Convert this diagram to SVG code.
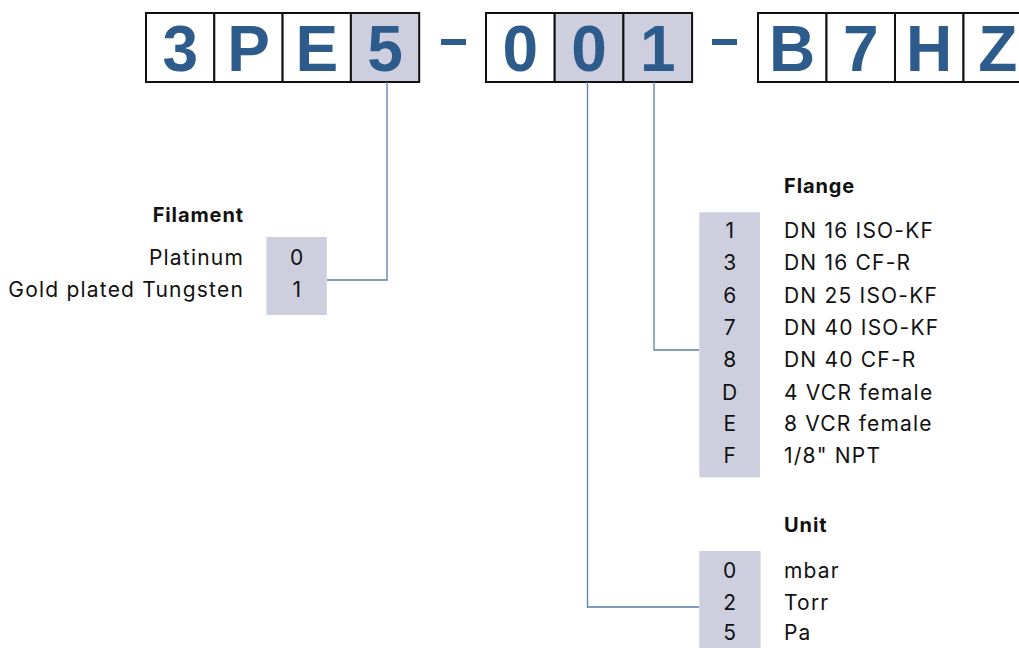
<svg xmlns="http://www.w3.org/2000/svg" width="1019" height="648" viewBox="0 0 1019 648">
  <style>
    .box { stroke: #111; stroke-width: 2; }
    .plain { fill: #ffffff; }
    .hl { fill: #cdcfdf; }
    .big { font-family: "Liberation Sans", Arial, sans-serif; font-weight: bold; font-size: 64px; fill: #2c5b8c; text-anchor: middle; }
    .dash { fill: #2c5b8c; }
    .title { font-family: Inter, "DejaVu Sans", sans-serif; font-weight: bold; font-size: 20px; letter-spacing: 0.9px; fill: #111; }
    .item { font-family: Inter, "DejaVu Sans", sans-serif; font-size: 21px; letter-spacing: 1.2px; fill: #111; }
    .code { font-family: Inter, "DejaVu Sans", sans-serif; font-size: 21px; fill: #111; text-anchor: middle; }
    .conn { fill: none; stroke: #5a7ea6; stroke-width: 1.3; }
  </style>

  <!-- order code boxes -->
  <g id="code-3PE5">
    <rect class="box plain" x="146" y="13" width="68.3" height="69"/>
    <rect class="box plain" x="214.3" y="13" width="68.3" height="69"/>
    <rect class="box plain" x="282.6" y="13" width="68.3" height="69"/>
    <rect class="box hl" x="350.9" y="13" width="68.3" height="69"/>
    <text class="big" x="180.2" y="71">3</text>
    <text class="big" x="248.5" y="71">P</text>
    <text class="big" x="316.8" y="71">E</text>
    <text class="big" x="385" y="71">5</text>
  </g>
  <rect id="dash-1" class="dash" x="441" y="39" width="25" height="6"/>
  <g id="code-001">
    <rect class="box plain" x="486" y="13" width="68.7" height="69"/>
    <rect class="box hl" x="554.7" y="13" width="68.7" height="69"/>
    <rect class="box hl" x="623.4" y="13" width="68.7" height="69"/>
    <text class="big" x="520.3" y="71">0</text>
    <text class="big" x="589" y="71">0</text>
    <text class="big" x="657.7" y="71">1</text>
  </g>
  <rect id="dash-2" class="dash" x="712" y="39" width="25" height="6"/>
  <g id="code-B7HZ">
    <rect class="box plain" x="758" y="13" width="68.5" height="69"/>
    <rect class="box plain" x="826.5" y="13" width="68.5" height="69"/>
    <rect class="box plain" x="895" y="13" width="68.5" height="69"/>
    <rect class="box plain" x="963.5" y="13" width="68.5" height="69"/>
    <text class="big" x="792.2" y="71">B</text>
    <text class="big" x="860.7" y="71">7</text>
    <text class="big" x="929.2" y="71">H</text>
    <text class="big" x="997.7" y="71">Z</text>
  </g>

  <!-- connectors -->
  <g id="connectors">
    <polyline class="conn" points="387,82 387,280 327,280"/>
    <polyline class="conn" points="654,82 654,350 699,350"/>
    <polyline class="conn" points="587.5,82 587.5,607 699,607"/>
  </g>

  <!-- filament -->
  <g id="filament">
    <text class="title" x="244" y="222" text-anchor="end">Filament</text>
    <rect class="hl" x="266.5" y="237" width="60.3" height="78"/>
    <text class="item" x="244" y="265" text-anchor="end">Platinum</text>
    <text class="item" x="244" y="297" text-anchor="end">Gold plated Tungsten</text>
    <text class="code" x="296.7" y="265">0</text>
    <text class="code" x="296.7" y="297">1</text>
  </g>

  <!-- flange -->
  <g id="flange">
    <text class="title" x="784" y="192.5">Flange</text>
    <rect class="hl" x="699.3" y="212.3" width="60.7" height="265"/>
    <text class="code" x="729.7" y="238.3">1</text>
    <text class="code" x="729.7" y="270.4">3</text>
    <text class="code" x="729.7" y="302.5">6</text>
    <text class="code" x="729.7" y="334.6">7</text>
    <text class="code" x="729.7" y="366.7">8</text>
    <text class="code" x="729.7" y="400">D</text>
    <text class="code" x="729.7" y="431">E</text>
    <text class="code" x="729.7" y="463">F</text>
    <text class="item" x="784" y="238.3">DN 16 ISO-KF</text>
    <text class="item" x="784" y="270.4">DN 16 CF-R</text>
    <text class="item" x="784" y="302.5">DN 25 ISO-KF</text>
    <text class="item" x="784" y="334.6">DN 40 ISO-KF</text>
    <text class="item" x="784" y="366.7">DN 40 CF-R</text>
    <text class="item" x="784" y="400">4 VCR female</text>
    <text class="item" x="784" y="431">8 VCR female</text>
    <text class="item" x="784" y="463">1/8" NPT</text>
  </g>

  <!-- unit -->
  <g id="unit">
    <text class="title" x="784" y="531.5">Unit</text>
    <rect class="hl" x="699.3" y="551" width="61.3" height="97"/>
    <text class="code" x="729.7" y="578.3">0</text>
    <text class="code" x="729.7" y="610">2</text>
    <text class="code" x="729.7" y="640">5</text>
    <text class="item" x="784" y="578.3">mbar</text>
    <text class="item" x="784" y="610">Torr</text>
    <text class="item" x="784" y="640">Pa</text>
  </g>
</svg>
